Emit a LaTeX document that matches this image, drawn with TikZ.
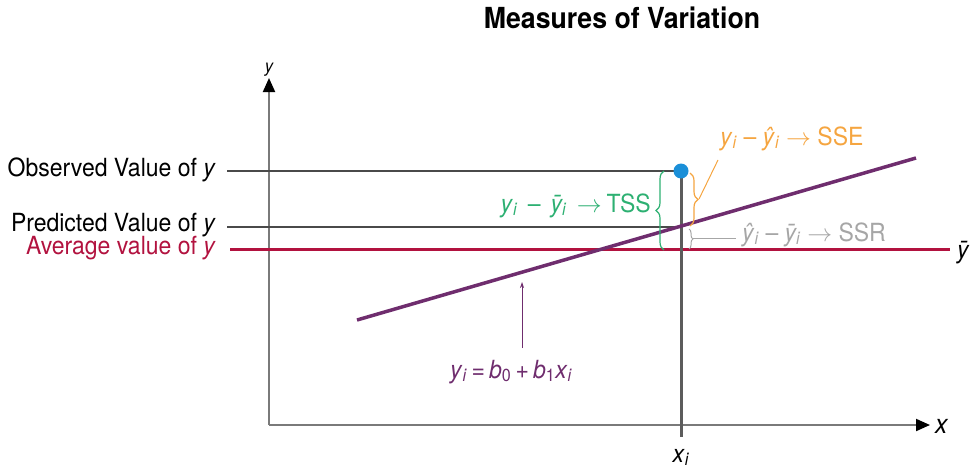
\documentclass[tikz,border=0pt]{standalone}
\usepackage{fontspec}
\setmainfont{TeX Gyre Heros}[FakeStretch=0.92]
\usetikzlibrary{decorations.pathreplacing,arrows.meta}
\definecolor{tssgreen}{HTML}{2DB072}
\definecolor{sseorange}{HTML}{F5A540}
\definecolor{ssrgray}{HTML}{A6A6A6}
\definecolor{regpurple}{HTML}{6F2D6E}
\definecolor{avgred}{HTML}{B2123F}
\definecolor{dotblue}{HTML}{1A8FD8}
\definecolor{axisgray}{HTML}{7A7A7A}
\definecolor{linegray}{HTML}{4A4A4A}
\newcommand\vy{\textit{y}}
\newcommand\sbi{\textsubscript{\textit{i}}}
\newcommand\msp{\hspace{0.25em}}
\begin{document}
\begin{tikzpicture}[x=1pt,y=-1pt,
  lbl/.style={font=\fontsize{25}{30}\selectfont, inner sep=0pt},
  axisline/.style={draw=axisgray, line width=2pt},
  refline/.style={draw=linegray, line width=2pt},
  brc/.style={decorate, decoration={brace, amplitude=#1}, line width=1.2pt}
]
\useasboundingbox (0,0) rectangle (976,471);
% title
\node[lbl, font=\fontsize{29}{34}\selectfont\bfseries, anchor=base] (title) at (622,28) {Measures of Variation};
% axes
\coordinate (O) at (269,425);
\coordinate (ytop) at (269,78);
\coordinate (xend) at (930,425);
\draw[axisline, -{Triangle[length=14pt,width=12pt]}, arrows={[black]}] (O) -- (ytop);
\draw[axisline, -{Triangle[length=14pt,width=12pt]}, arrows={[black]}] (O) -- (xend);
\node[lbl, font=\fontsize{18}{20}\selectfont\itshape, anchor=base] (ylab) at (269,72) {y};
\node[lbl, font=\fontsize{27}{30}\selectfont\itshape, anchor=base west] (xlab) at (935,433) {x};
% points
\coordinate (obs) at (681,171);
\coordinate (pred) at (681,227);
\coordinate (avg) at (681,249);
\coordinate (obsL) at (227,171);
\coordinate (predL) at (227,227);
\coordinate (avgL) at (230,249);
\coordinate (avgR) at (950,249);
\coordinate (xibot) at (681,437);
% reference lines
\draw[refline] (obsL) -- (obs);
\draw[refline] (predL) -- (pred);
\draw[draw=avgred, line width=3pt] (avgL) -- (avgR);
\draw[draw=linegray!90, line width=3pt] (obs) -- (xibot);
% regression line
\coordinate (r1) at (357,320);
\coordinate (r2) at (916,158);
\draw[regpurple, line width=3.5pt] (r1) -- (r2);
% observed dot
\fill[dotblue] (obs) circle (7.5pt);
% left labels
\node[lbl, anchor=base east] (lobs) at (216,176) {Observed Value of \vy};
\node[lbl, anchor=base east] (lpred) at (216,231) {Predicted Value of \vy};
\node[lbl, anchor=base east, text=avgred] (lavg) at (216,254) {Average value of \vy};
\node[lbl, anchor=base west] (ybar) at (957,258) {\textit{\=y}};
\node[lbl, anchor=base] (xi) at (681,462) {\textit{x}\sbi};
% TSS brace
\coordinate (tssB) at (664,250);
\coordinate (tssT) at (664,171);
\draw[brc=8pt, tssgreen] (tssB) -- (tssT);
\node[lbl, anchor=base east, text=tssgreen] (tss) at (651,212) {\vy\sbi\hspace{0.4em}–\hspace{0.4em}\textit{\=y}\sbi\hspace{0.4em}$\rightarrow$\hspace{0.2em}TSS};
% SSE brace
\coordinate (sseT) at (690,173);
\coordinate (sseB) at (690,226);
\coordinate (sseTip) at (699,199);
\coordinate (sseEnd) at (718,160);
\draw[brc=8pt, sseorange] (sseT) -- (sseB);
\draw[sseorange, line width=1pt] (sseTip) -- (sseEnd);
\node[lbl, anchor=base west, text=sseorange] (sse) at (720,145) {\vy\sbi\msp–\msp\textit{\^y}\sbi\ $\rightarrow$ SSE};
% SSR bracket
\coordinate (ssrT) at (689,229);
\coordinate (ssrB) at (689,249);
\coordinate (ssrTip) at (693,238);
\coordinate (ssrEnd) at (736,238);
\draw[brc=4pt, ssrgray, line width=1pt] (ssrT) -- (ssrB);
\draw[ssrgray, line width=1pt] (ssrTip) -- (ssrEnd);
\node[lbl, anchor=base west, text=ssrgray] (ssr) at (742,241) {\textit{\^y}\sbi\msp–\msp\textit{\=y}\sbi\ $\rightarrow$ SSR};
% regression equation
\coordinate (eqTop) at (522,282);
\coordinate (eqBot) at (522,348);
\draw[regpurple, line width=0.8pt, -{Stealth[length=6pt,width=4pt]}] (eqBot) -- (eqTop);
\node[lbl, anchor=base west, text=regpurple] (eq) at (450,378) {\vy\sbi\,=\,\textit{b}\textsubscript{0}\,+\,\textit{b}\textsubscript{1}\textit{x}\sbi};
\end{tikzpicture}
\end{document}
